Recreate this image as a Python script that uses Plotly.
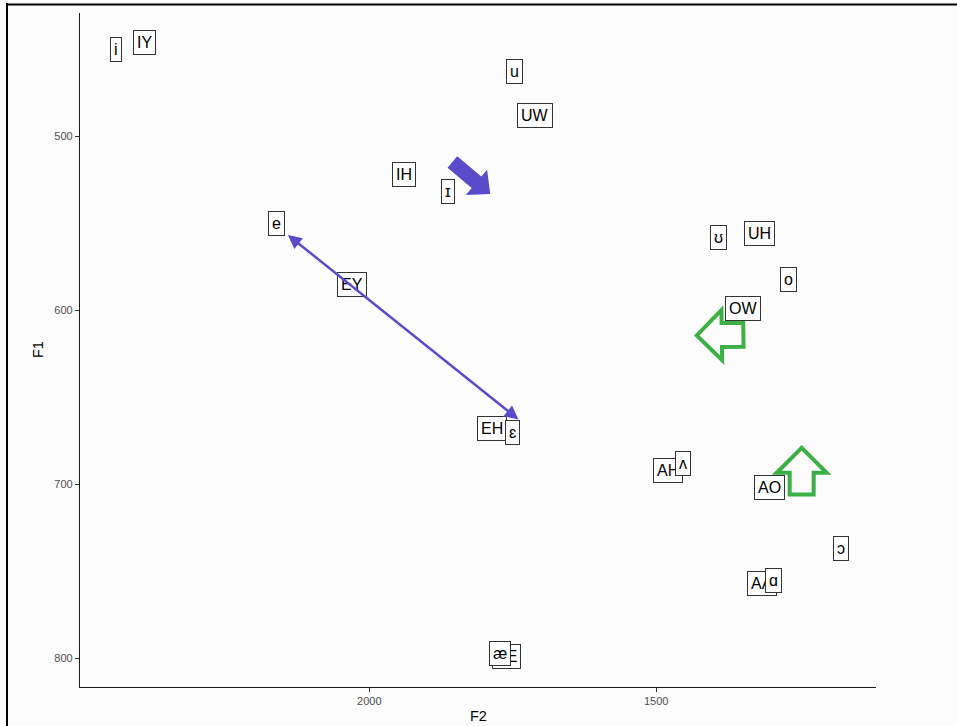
import plotly.graph_objects as go

# ---- data (F2, F1 in Hz) ----
arpa_labels = ["IY", "IH", "EY", "EH", "AE", "AA", "AO", "AH", "OW", "UH", "UW"]
arpa_f2 = [2392, 1939, 2030, 1786, 1761, 1316, 1302, 1479, 1349, 1320, 1711]
arpa_f1 = [446, 522, 585, 668, 799, 757, 702, 692, 599, 556, 488]

ipa_labels = ["i", "ɪ", "e", "ɛ", "æ", "ɑ", "ɔ", "ʌ", "o", "ʊ", "u"]
ipa_f2 = [2441, 1863, 2162, 1750, 1772, 1295, 1178, 1453, 1270, 1391, 1747]
ipa_f1 = [450, 532, 550, 670, 797, 755, 737, 688, 582, 558, 463]

x_ticks = [2000, 1500]
y_ticks = [500, 600, 700, 800]

# ---- layout geometry ----
W, H = 957, 726
ML, MR, MT, MB = 80, 81, 13, 39
PW, PH = W - ML - MR, H - MT - MB
XR = [2504.4, 1116.7]   # reversed F2
YR = [816.3, 429.2]     # reversed F1 (bottom, top)

PURPLE = "#5a4bca"
GREEN = "#3cb044"


def d2p(f2, f1):
    px = (f2 - XR[0]) / (XR[1] - XR[0]) * PW
    py = (f1 - YR[1]) / (YR[0] - YR[1]) * PH
    return px, py


def p2d(px, py):
    f2 = XR[0] + px / PW * (XR[1] - XR[0])
    f1 = YR[1] + py / PH * (YR[0] - YR[1])
    return f2, f1


def block_arrow(tail, tip, shaft_w, head_w, head_len):
    tx, ty = d2p(*tail)
    hx, hy = d2p(*tip)
    L = ((hx - tx) ** 2 + (hy - ty) ** 2) ** 0.5
    ux, uy = (hx - tx) / L, (hy - ty) / L
    nx, ny = -uy, ux
    bx, by = hx - ux * head_len, hy - uy * head_len
    s, h = shaft_w / 2, head_w / 2
    pts = [
        (tx + nx * s, ty + ny * s),
        (bx + nx * s, by + ny * s),
        (bx + nx * h, by + ny * h),
        (hx, hy),
        (bx - nx * h, by - ny * h),
        (bx - nx * s, by - ny * s),
        (tx - nx * s, ty - ny * s),
    ]
    dpts = [p2d(x, y) for x, y in pts]
    return "M " + " L ".join(f"{a:.2f},{b:.2f}" for a, b in dpts) + " Z"


fig = go.Figure()
fig.add_trace(go.Scatter(x=arpa_f2 + ipa_f2, y=arpa_f1 + ipa_f1, mode="markers",
                         marker=dict(opacity=0), hoverinfo="skip", showlegend=False))

annotations = []
label_font = dict(family="Liberation Sans, Arial, DejaVu Sans", size=16, color="black")
for lab, x, y in list(zip(arpa_labels, arpa_f2, arpa_f1)) + list(zip(ipa_labels, ipa_f2, ipa_f1)):
    annotations.append(dict(x=x, y=y, xref="x", yref="y", text=lab, showarrow=False,
                            font=label_font, bgcolor="white", bordercolor="#333333",
                            borderwidth=1, borderpad=3))

# double-headed purple arrow (e -> ɛ)
annotations.append(dict(x=1740, y=662.6, ax=2144.6, ay=556, xref="x", yref="y",
                        axref="x", ayref="y", text="", showarrow=True,
                        arrowhead=2, startarrowhead=2, arrowside="end+start",
                        arrowsize=1.1, startarrowsize=1.1, arrowwidth=2.5,
                        arrowcolor=PURPLE, standoff=0, startstandoff=0))

title_font = dict(family="Liberation Sans, Arial", size=14.5, color="black")
annotations.append(dict(x=0.5, y=0, xref="paper", yref="paper", text="F2", showarrow=False,
                        font=title_font, xanchor="center", yanchor="middle", yshift=-29))
annotations.append(dict(x=0, y=0.5, xref="paper", yref="paper", text="F1", showarrow=False,
                        font=title_font, xanchor="center", yanchor="middle", xshift=-42,
                        textangle=-90))

shapes = []
shapes.append(dict(type="path", xref="x", yref="y",
                   path=block_arrow((1855.2, 514.8), (1789.2, 533.1), 15, 33, 18),
                   fillcolor=PURPLE, line=dict(width=0)))
shapes.append(dict(type="path", xref="x", yref="y",
                   path=block_arrow((1347.9, 614.0), (1429.1, 614.4), 24, 50, 25),
                   fillcolor="rgba(0,0,0,0)", line=dict(color=GREEN, width=4)))
shapes.append(dict(type="path", xref="x", yref="y",
                   path=block_arrow((1246.3, 705.7), (1246.2, 678.9), 24, 50, 25),
                   fillcolor="rgba(0,0,0,0)", line=dict(color=GREEN, width=4)))


def px2paper_x(px):
    return (px - ML) / PW


def py2paper_y(py):
    return (H - MB - py) / PH


# screenshot frame lines
shapes.append(dict(type="line", xref="paper", yref="paper",
                   x0=px2paper_x(7), x1=px2paper_x(7), y0=py2paper_y(3), y1=py2paper_y(730),
                   line=dict(color="black", width=2)))
shapes.append(dict(type="line", xref="paper", yref="paper",
                   x0=px2paper_x(6), x1=px2paper_x(960), y0=py2paper_y(4.5), y1=py2paper_y(4.5),
                   line=dict(color="black", width=2)))

tick_font = dict(family="Liberation Sans, Arial", size=11, color="#4d4d4d")

fig.update_layout(
    width=W, height=H,
    margin=dict(l=ML, r=MR, t=MT, b=MB, pad=0),
    paper_bgcolor="#fcfcfc", plot_bgcolor="#fcfcfc",
    annotations=annotations, shapes=shapes,
    xaxis=dict(range=XR, tickvals=x_ticks, ticktext=[str(v) for v in x_ticks],
               showgrid=False, zeroline=False, showline=True, linecolor="#1a1a1a",
               linewidth=1.2, ticks="outside", ticklen=4, tickcolor="#333333",
               tickfont=tick_font, automargin=False),
    yaxis=dict(range=YR, tickvals=y_ticks, ticktext=[str(v) for v in y_ticks],
               showgrid=False, zeroline=False, showline=True, linecolor="#1a1a1a",
               linewidth=1.2, ticks="outside", ticklen=4, tickcolor="#333333",
               tickfont=tick_font, automargin=False),
)

fig.write_html("out.html")
